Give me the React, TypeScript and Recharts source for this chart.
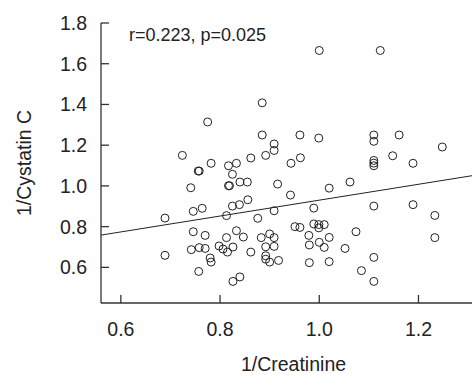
import { ScatterChart, Scatter, XAxis, YAxis, ReferenceLine } from 'recharts'

// 1/Creatinine vs 1/Cystatin C
const creatinineInv = [
  1.0, 1.123, 0.885, 0.775, 0.885, 0.961, 0.999, 1.11, 1.11, 1.161,
  1.248, 0.909, 0.909, 0.892, 0.724, 0.862, 0.962, 0.943, 1.148, 1.189,
  1.11, 1.11, 1.11, 0.782, 0.817, 0.833, 0.825, 0.756, 0.758, 0.84,
  0.855, 0.817, 0.819, 0.741, 0.916, 1.02, 1.062, 0.942, 0.856, 0.825,
  0.839, 0.764, 0.746, 0.909, 0.989, 1.11, 1.189, 1.233, 0.689, 0.813,
  0.876, 0.951, 0.961, 0.989, 0.999, 0.999, 1.01, 0.746, 0.77, 0.833,
  0.847, 0.813, 0.883, 0.9, 0.909, 0.979, 1.02, 1.074, 1.233, 1.0,
  0.98, 0.742, 0.758, 0.77, 0.798, 0.806, 0.815, 0.826, 0.862, 0.892,
  0.909, 1.01, 1.052, 0.689, 0.78, 0.782, 0.892, 0.892, 0.9, 0.918,
  0.98, 1.02, 1.11, 0.757, 1.085, 0.826, 0.84, 1.11,
]
const cystatinInv = [
  1.665, 1.665, 1.408, 1.314, 1.25, 1.25, 1.235, 1.25, 1.219, 1.25,
  1.191, 1.206, 1.174, 1.15, 1.15, 1.137, 1.138, 1.111, 1.148, 1.111,
  1.125, 1.112, 1.099, 1.111, 1.099, 1.111, 1.057, 1.073, 1.073, 1.019,
  1.019, 1.001, 1.001, 0.991, 1.009, 0.989, 1.019, 0.955, 0.932, 0.901,
  0.908, 0.89, 0.875, 0.878, 0.891, 0.901, 0.908, 0.855, 0.842, 0.854,
  0.841, 0.8, 0.796, 0.813, 0.81, 0.794, 0.81, 0.775, 0.757, 0.78,
  0.749, 0.746, 0.746, 0.764, 0.746, 0.757, 0.747, 0.775, 0.746, 0.723,
  0.71, 0.687, 0.697, 0.693, 0.705, 0.69, 0.675, 0.7, 0.675, 0.701,
  0.703, 0.698, 0.693, 0.659, 0.646, 0.626, 0.657, 0.64, 0.626, 0.634,
  0.623, 0.628, 0.649, 0.58, 0.584, 0.531, 0.553, 0.531,
]

const xTicks = [0.6, 0.8, 1.0, 1.2]
const yTicks = [0.6, 0.8, 1.0, 1.2, 1.4, 1.6, 1.8]
const xDomain = [0.56, 1.32]
const yDomain = [0.425, 1.8]

// regression line y = a + b*x
const fitIntercept = 0.54
const fitSlope = 0.39
const statsText = 'r=0.223, p=0.025'

const points = creatinineInv.map((x, i) => ({ x, y: cystatinInv[i] }))

const ink = '#222'
const font = '"Liberation Sans", Arial, sans-serif'

const OpenCircle = (props: any) => (
  <circle cx={props.cx} cy={props.cy} r={4} fill="none" stroke={ink} strokeWidth={1} />
)

export default function App() {
  const fit = xDomain.map((x) => ({ x, y: fitIntercept + fitSlope * x }))
  return (
    <div
      style={{
        position: 'absolute',
        left: 0,
        top: 0,
        width: 472,
        height: 375,
        overflow: 'hidden',
        background: '#fff',
      }}
    >
      <ScatterChart
        width={480}
        height={375}
        margin={{ top: 23, right: 2, bottom: 0, left: 0 }}
        style={{ fontFamily: font }}
      >
        <XAxis
          type="number"
          dataKey="x"
          domain={xDomain}
          ticks={xTicks}
          allowDataOverflow
          tickFormatter={(v: number) => v.toFixed(1)}
          height={72}
          tickSize={-8}
          tickMargin={27}
          stroke="#333"
          strokeWidth={1.3}
          tick={{ fill: ink, fontSize: 19.5 }}
          label={{
            value: '1/Creatinine',
            position: 'insideBottom',
            offset: 4,
            dx: 4,
            fill: ink,
            fontSize: 19.5,
          }}
        />
        <YAxis
          type="number"
          dataKey="y"
          domain={yDomain}
          ticks={yTicks}
          allowDataOverflow
          tickFormatter={(v: number) => v.toFixed(1)}
          width={101}
          tickSize={-8}
          tickMargin={22}
          stroke="#333"
          strokeWidth={1.3}
          tick={{ fill: ink, fontSize: 19.5 }}
          label={{
            value: '1/Cystatin C',
            angle: -90,
            position: 'insideLeft',
            offset: 24,
            fill: ink,
            fontSize: 19.5,
            style: { textAnchor: 'middle' },
          }}
        />
        <ReferenceLine segment={fit} stroke={ink} strokeWidth={1} ifOverflow="visible" />
        <Scatter data={points} shape={OpenCircle} isAnimationActive={false} />
        <text x={129} y={41} fill={ink} fontSize={18} fontFamily={font}>
          {statsText}
        </text>
      </ScatterChart>
    </div>
  )
}
